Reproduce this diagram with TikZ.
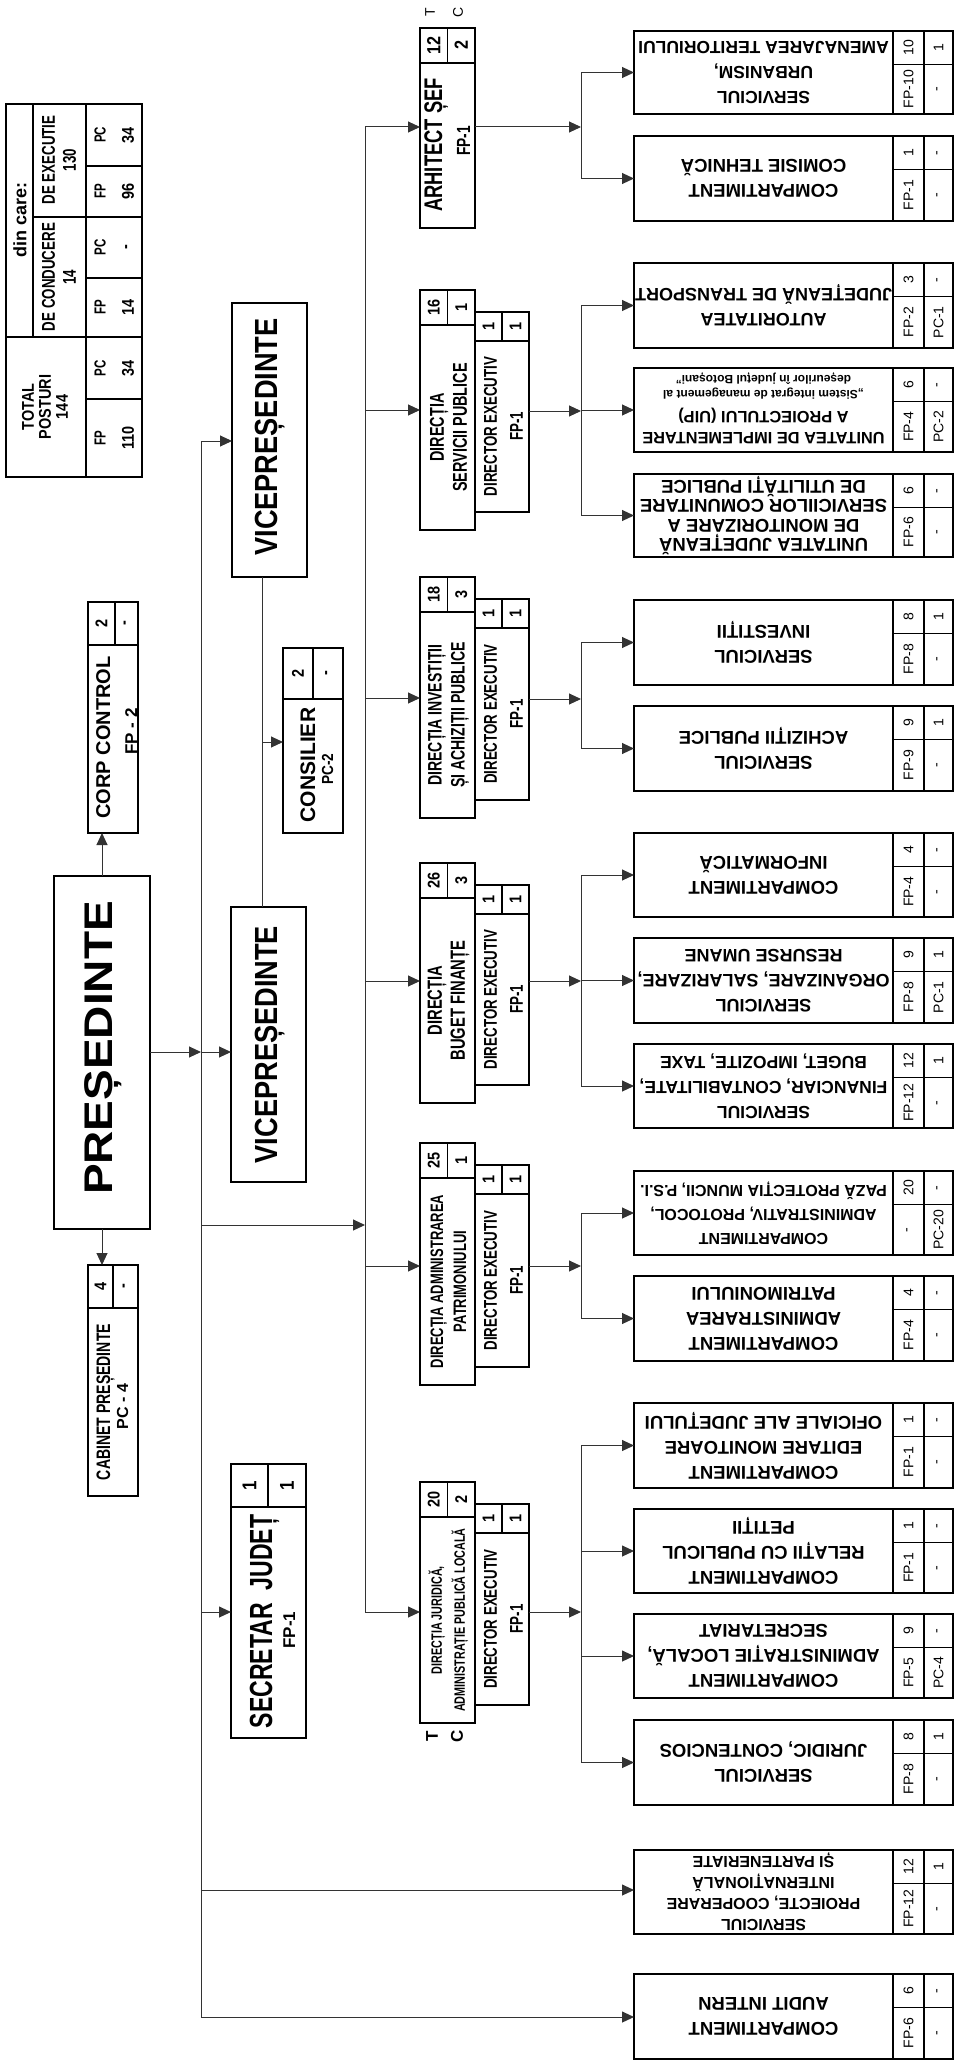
\documentclass[tikz,border=0pt]{standalone}
\usepackage{fontspec}
\setmainfont{Liberation Sans}
\newfontfamily\fN{Liberation Sans}
\newfontfamily\fW[FakeStretch=1.15]{Liberation Sans}
\newfontfamily\fC[FakeStretch=0.85]{Liberation Sans}
\newfontfamily\fX[FakeStretch=0.72]{Liberation Sans}
\usetikzlibrary{arrows.meta,calc}
\newcommand\fsz[2]{\fontsize{#1}{#2}\selectfont}
\newcommand\bfnt{\fsz{18.5}{25}}
\newcommand\nfnt{\fC\bfseries\fsz{17}{17}}
\newcommand\dfnt{\fX\bfseries\fsz{18.5}{26}}
\newcommand\cfnt{\fN\fsz{14}{14}}
\tikzset{
 bxs/.style={draw=black, line width=1.3pt, inner sep=0pt, outer sep=0pt, rectangle},
 ln/.style={draw=black, line width=1.3pt},
 con/.style={draw=black!80, line width=1pt},
 arr/.style={con, -{Triangle[length=12pt,width=11pt]}},
 vt/.style={rotate=90, inner sep=0pt, align=center},
 ut/.style={rotate=180, inner sep=0pt, align=center},
}
\newcommand\rbox[5]{\node[bxs, minimum width={(#4)-(#2)}, minimum height={(#5)-(#3)}] (#1) at ({((#2)+(#4))/2},{((#3)+(#5))/2}) {};}
% bottom-level box: name, top, bottom, text, c1top, c1bottom, c2top, c2bottom
\newcommand\bb[8]{%
 \rbox{#1}{634}{#2}{953}{#3}
 \draw[ln] (893,#2) -- (893,#3) (924,#2) -- (924,#3) (893,{#2+33.5}) -- (953,{#2+33.5});
 \node[ut, font=\fN\bfseries\bfnt] (#1t) at (763.5,{(#2+#3)/2}) {#4};
 \node[vt, font=\cfnt] (#1a) at (908.5,{#2+16.75}) {#5};
 \node[vt, font=\cfnt] (#1b) at (908.5,{(#2+33.5+#3)/2}) {#6};
 \node[vt, font=\cfnt] (#1c) at (938.5,{#2+16.75}) {#7};
 \node[vt, font=\cfnt] (#1d) at (938.5,{(#2+33.5+#3)/2}) {#8};
}
% directorate: name, top, bottom, font, text, n1, n2
\newcommand\db[7]{%
 \rbox{#1}{420}{#2}{475}{#3}
 \draw[ln] (420,{#2+35}) -- (475,{#2+35}) (447.5,#2) -- (447.5,{#2+35});
 \node[vt, font=#4] (#1t) at (448.5,{(#2+35+#3)/2}) {#5};
 \node[vt, font=\nfnt] (#1n) at (433.75,{#2+17.5}) {#6};
 \node[vt, font=\nfnt] (#1m) at (461.25,{#2+17.5}) {#7};
 \rbox{#1d}{475}{#2+22}{529}{#3-18}
 \draw[ln] (475,{#2+51}) -- (529,{#2+51}) (502,{#2+22}) -- (502,{#2+51});
 \node[vt, font=\nfnt] (#1dn) at (488.5,{#2+36.5}) {1};
 \node[vt, font=\nfnt] (#1dm) at (515.5,{#2+36.5}) {1};
 \node[vt, font=\dfnt] (#1dt) at (503.5,{(#2+51+#3-18)/2}) {DIRECTOR EXECUTIV\\FP-1};
}
\begin{document}
\begin{tikzpicture}[x=1pt,y=-1pt]
\useasboundingbox (0,0) rectangle (954,2060);

% ---------- summary table ----------
\rbox{tab}{6}{104}{142}{477}
\draw[ln] (6,337) -- (142,337) (33,104) -- (33,337) (86,104) -- (86,477)
  (33,217) -- (142,217) (86,166) -- (142,166) (86,278) -- (142,278) (86,399) -- (142,399);
\node[vt, font=\fN\bfseries\fsz{18}{18}] (din) at (20,220) {din care:};
\node[vt, font=\fX\bfseries\fsz{18.5}{21}] (cond) at (59,277) {DE CONDUCERE\\14};
\node[vt, font=\fX\bfseries\fsz{18.5}{21}] (exe) at (59,160) {DE EXECUTIE\\130};
\node[vt, font=\fC\bfseries\fsz{17}{17}] (tot) at (45,407) {TOTAL\\POSTURI\\144};
\node[vt, font=\fX\bfseries\fsz{16}{16}] (l1) at (100,135) {PC};
\node[vt, font=\fC\bfseries\fsz{17}{17}] (v1) at (128,135) {34};
\node[vt, font=\fX\bfseries\fsz{16}{16}] (l2) at (100,191) {FP};
\node[vt, font=\fC\bfseries\fsz{17}{17}] (v2) at (128,191) {96};
\node[vt, font=\fX\bfseries\fsz{16}{16}] (l3) at (100,247) {PC};
\node[vt, font=\fC\bfseries\fsz{17}{17}] (v3) at (128,247) {-};
\node[vt, font=\fX\bfseries\fsz{16}{16}] (l4) at (100,307) {FP};
\node[vt, font=\fC\bfseries\fsz{17}{17}] (v4) at (128,307) {14};
\node[vt, font=\fX\bfseries\fsz{16}{16}] (l5) at (100,368) {PC};
\node[vt, font=\fC\bfseries\fsz{17}{17}] (v5) at (128,368) {34};
\node[vt, font=\fX\bfseries\fsz{16}{16}] (l6) at (100,438) {FP};
\node[vt, font=\fC\bfseries\fsz{17}{17}] (v6) at (128,438) {110};

% ---------- president level ----------
\rbox{pres}{54}{876}{150}{1229}
\node[vt, anchor=base, font=\fW\bfseries\fsz{40}{40}] (prest) at (112,1048) {PREȘEDINTE};

\rbox{corp}{88}{602}{138}{833}
\draw[ln] (88,645) -- (138,645) (115,602) -- (115,645);
\node[vt, font=\nfnt] (corpn) at (101.5,623.5) {2};
\node[vt, font=\nfnt] (corpm) at (126.5,623.5) {-};
\node[vt, anchor=base, font=\fN\bfseries\fsz{20}{20}] (corpt) at (110,737.5) {CORP CONTROL};
\node[vt, anchor=base, font=\fN\bfseries\fsz{17}{17}] (corpf) at (137,731.5) {FP - 2};

\rbox{cab}{88}{1265}{138}{1496}
\draw[ln] (88,1308) -- (138,1308) (113,1265) -- (113,1308);
\node[vt, font=\nfnt] (cabn) at (100.5,1286.5) {4};
\node[vt, font=\nfnt] (cabm) at (125.5,1286.5) {-};
\node[vt, anchor=base, font=\fX\bfseries\fsz{19.5}{19.5}] (cabt) at (110,1402) {CABINET PREȘEDINTE};
\node[vt, anchor=base, font=\fN\bfseries\fsz{16}{16}] (cabf) at (128,1406.5) {PC - 4};

\rbox{vp1}{232}{303}{307}{577}
\node[vt, anchor=base, font=\fC\bfseries\fsz{32}{32}] (vp1t) at (277,437) {VICEPREȘEDINTE};
\rbox{vp2}{231}{907}{306}{1182}
\node[vt, anchor=base, font=\fC\bfseries\fsz{32}{32}] (vp2t) at (277,1044.5) {VICEPREȘEDINTE};

\rbox{cons}{283}{648}{343}{833}
\draw[ln] (283,699) -- (343,699) (313,648) -- (313,699);
\node[vt, font=\nfnt] (consn) at (298,673.5) {2};
\node[vt, font=\nfnt] (consm) at (328,673.5) {-};
\node[vt, anchor=base, font=\fN\bfseries\fsz{21}{21}] (const) at (315,765) {CONSILIER};
\node[vt, anchor=base, font=\fC\bfseries\fsz{16}{16}] (consf) at (333,769) {PC-2};

\rbox{sec}{231}{1464}{306}{1738}
\draw[ln] (231,1507) -- (306,1507) (268,1464) -- (268,1507);
\node[vt, font=\fC\bfseries\fsz{20}{20}] (secn) at (249.5,1485.5) {1};
\node[vt, font=\fC\bfseries\fsz{20}{20}] (secm) at (287,1485.5) {1};
\node[vt, anchor=base, font=\fX\bfseries\fsz{32}{32}] (sect) at (272,1621.5) {SECRETAR\ \ JUDEȚ};
\node[vt, anchor=base, font=\fN\bfseries\fsz{17}{17}] (secf) at (295,1630) {FP-1};

% ---------- directorates ----------
\rbox{dA}{420}{28}{475}{228}
\draw[ln] (420,63) -- (475,63) (447.5,28) -- (447.5,63);
\node[vt, font=\fC\bfseries\fsz{19}{19}] (dAn) at (433.75,45.5) {12};
\node[vt, font=\fC\bfseries\fsz{19}{19}] (dAm) at (461.25,45.5) {2};
\node[vt, anchor=base, font=\fX\bfseries\fsz{25.5}{25.5}] (dAt) at (442,145) {ARHITECT ȘEF};
\node[vt, anchor=base, font=\fX\bfseries\fsz{19}{19}] (dAf) at (470,141) {FP-1};
\node[vt, font=\fN\fsz{14}{14}] (tc1) at (430,12) {T};
\node[vt, font=\fN\fsz{14}{14}] (tc2) at (458,12) {C};

\db{dB}{290}{530}{\fX\bfseries\fsz{20}{23}}{DIRECȚIA\\SERVICII PUBLICE}{16}{1}
\db{dC}{577}{818}{\fX\bfseries\fsz{19.5}{23}}{DIRECȚIA INVESTIȚII\\ȘI ACHIZIȚII PUBLICE}{18}{3}
\db{dD}{863}{1103}{\fX\bfseries\fsz{20.5}{23}}{DIRECȚIA\\BUGET FINANȚE}{26}{3}
\db{dE}{1143}{1385}{\fX\bfseries\fsz{18}{23}}{DIRECȚIA ADMINISTRAREA\\PATRIMONIULUI}{25}{1}
\db{dF}{1482}{1723}{\fX\bfseries\fsz{15}{23}}{DIRECȚIA JURIDICĂ,\\ADMINISTRAȚIE PUBLICĂ LOCALĂ}{20}{2}
\node[vt, font=\fN\bfseries\fsz{17}{17}] (tc3) at (432,1736) {T};
\node[vt, font=\fN\bfseries\fsz{17}{17}] (tc4) at (457,1736) {C};

% ---------- bottom level ----------
\renewcommand\bfnt{\fsz{17.5}{25}}
\bb{b1}{31}{114}{SERVICIUL\\URBANISM,\\AMENAJAREA TERITORIULUI}{10}{FP-10}{1}{-}
\renewcommand\bfnt{\fsz{18.5}{25}}
\bb{b2}{136}{221}{COMPARTIMENT\\COMISIE TEHNICĂ}{1}{FP-1}{-}{-}
\renewcommand\bfnt{\fsz{18}{25}}
\bb{b3}{263}{348}{AUTORITATEA\\JUDEȚEANĂ DE TRANSPORT}{3}{FP-2}{-}{PC-1}
\renewcommand\bfnt{\fsz{16.4}{21}}
\bb{b4}{368}{452}{}{6}{FP-4}{-}{PC-2}
\node[ut, font=\fN\bfseries\fsz{16.4}{21}] (b4u) at (763.5,426) {UNITATEA DE IMPLEMENTARE\\A PROIECTULUI (UIP)};
\node[ut, font=\fN\bfseries\fsz{12}{15.5}] (b4v) at (763.5,386) {„Sistem integrat de management al\\deșeurilor în județul Botoșani”};
\renewcommand\bfnt{\fsz{18.5}{19.5}}
\bb{b5}{474}{557}{UNITATEA JUDEȚEANĂ\\DE MONITORIZARE A\\SERVICIILOR COMUNITARE\\DE UTILITĂȚI PUBLICE}{6}{FP-6}{-}{-}
\renewcommand\bfnt{\fsz{18.5}{25}}
\bb{b6}{600}{685}{SERVICIUL\\INVESTIȚII}{8}{FP-8}{1}{-}
\bb{b7}{706}{791}{SERVICIUL\\ACHIZIȚII PUBLICE}{9}{FP-9}{1}{-}
\bb{b8}{833}{917}{COMPARTIMENT\\INFORMATICĂ}{4}{FP-4}{-}{-}
\renewcommand\bfnt{\fsz{18}{25}}
\bb{b9}{938}{1023}{SERVICIUL\\ORGANIZARE, SALARIZARE,\\RESURSE UMANE}{9}{FP-8}{1}{PC-1}
\renewcommand\bfnt{\fsz{17.5}{25}}
\bb{b10}{1044}{1128}{SERVICIUL\\FINANCIAR, CONTABILITATE,\\BUGET, IMPOZITE, TAXE}{12}{FP-12}{1}{-}
\renewcommand\bfnt{\fsz{16}{24}}
\bb{b11}{1171}{1255}{COMPARTIMENT\\ADMINISTRATIV, PROTOCOL,\\PAZĂ PROTECȚIA MUNCII, P.S.I.}{20}{-}{-}{PC-20}
\renewcommand\bfnt{\fsz{18.5}{25}}
\bb{b12}{1276}{1361}{COMPARTIMENT\\ADMINISTRAREA\\PATRIMONIULUI}{4}{FP-4}{-}{-}
\bb{b13}{1403}{1488}{COMPARTIMENT\\EDITARE MONITOARE\\OFICIALE ALE JUDEȚULUI}{1}{FP-1}{-}{-}
\bb{b14}{1509}{1593}{COMPARTIMENT\\RELAȚII CU PUBLICUL\\PETIȚII}{1}{FP-1}{-}{-}
\bb{b15}{1614}{1698}{COMPARTIMENT\\ADMINISTRAȚIE LOCALĂ,\\SECRETARIAT}{9}{FP-5}{-}{PC-4}
\bb{b16}{1720}{1805}{SERVICIUL\\JURIDIC, CONTENCIOS}{8}{FP-8}{1}{-}
\renewcommand\bfnt{\fsz{16}{21}}
\bb{b17}{1850}{1934}{SERVICIUL\\PROIECTE, COOPERARE\\INTERNAȚIONALĂ\\ȘI PARTENERIATE}{12}{FP-12}{1}{-}
\renewcommand\bfnt{\fsz{18.5}{25}}
\bb{b18}{1974}{2059}{COMPARTIMENT\\AUDIT INTERN}{6}{FP-6}{-}{-}

% ---------- connectors ----------
\coordinate (tTop) at (201,441);
\coordinate (tBot) at (201,2017);
\coordinate (tP) at (201,1052);
\coordinate (tBus) at (201,1225);
\coordinate (tSec) at (201,1612);
\coordinate (tProj) at (201,1890);
\coordinate (busP) at (365,1225);
\draw[con] (tTop) -- (tBot);
\draw[arr] (tTop) -- (vp1.west |- tTop);
\draw[arr] (pres.east |- tP) -- (tP);
\draw[arr] (tP) -- (vp2.west |- tP);
\draw[arr] (tBus) -- (busP);
\draw[arr] (tSec) -- (sec.west |- tSec);
\draw[arr] (tProj) -- (b17.west |- tProj);
\draw[arr] (tBot) -- (b18.west |- tBot);
\draw[arr] (pres.north) -- (pres.north |- corp.south);
\draw[arr] (pres.south) -- (pres.south |- cab.north);
\coordinate (vx) at (262,742);
\draw[con] (vp1.south -| vx) -- (vp2.north -| vx);
\draw[arr] (vx) -- (cons.west |- vx);

\coordinate (iA) at (365,127);
\coordinate (iB) at (365,410);
\coordinate (iC) at (365,698);
\coordinate (iD) at (365,981);
\coordinate (iE) at (365,1266);
\coordinate (iF) at (365,1612);
\draw[con] (iA) -- (iF);
\foreach \k in {A,B,C,D,E,F} { \draw[arr] (i\k) -- (d\k.west |- i\k); }

\coordinate (sA) at (581,127);
\coordinate (sB) at (581,411);
\coordinate (sC) at (581,699);
\coordinate (sD) at (581,981);
\coordinate (sE) at (581,1266);
\coordinate (sF) at (581,1612);
\draw[arr] (dA.east |- sA) -- (sA);
\foreach \k in {B,C,D,E,F} { \draw[arr] (d\k d.east |- s\k) -- (s\k); }

\draw[con] (sA |- b1.west) -- (sA |- b2.west);
\draw[con] (sB |- b3.west) -- (sB |- b5.west);
\draw[con] (sC |- b6.west) -- (sC |- b7.west);
\draw[con] (sD |- b8.west) -- (sD |- b10.west);
\draw[con] (sE |- b11.west) -- (sE |- b12.west);
\draw[con] (sF |- b13.west) -- (sF |- b16.west);
\foreach \b/\s in {b1/sA,b2/sA,b3/sB,b4/sB,b5/sB,b6/sC,b7/sC,b8/sD,b9/sD,b10/sD,b11/sE,b12/sE,b13/sF,b14/sF,b15/sF,b16/sF}
  { \draw[arr] (\s |- \b.west) -- (\b.west); }
\end{tikzpicture}
\end{document}
